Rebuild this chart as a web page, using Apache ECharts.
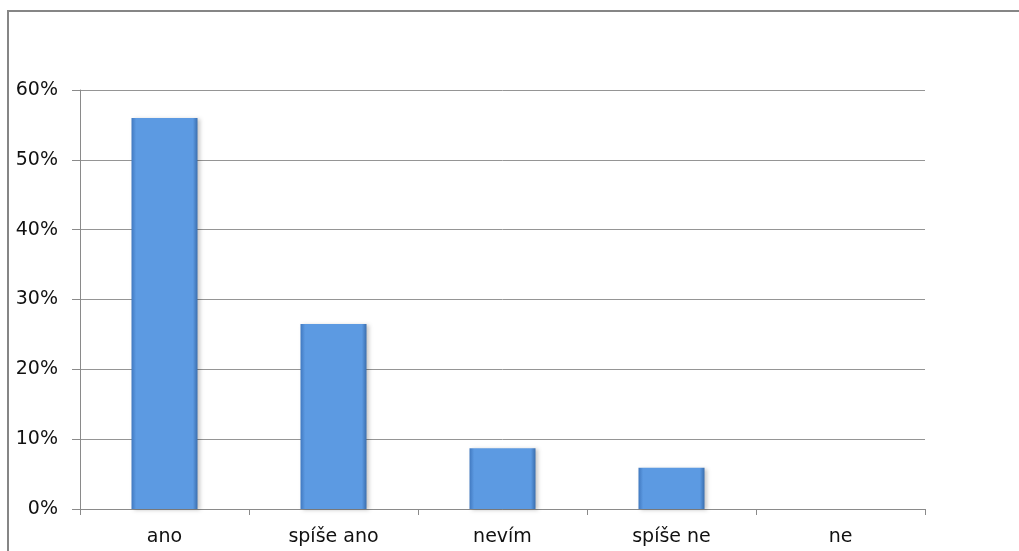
<!DOCTYPE html>
<html><head><meta charset="utf-8">
<script src="https://cdn.jsdelivr.net/npm/echarts@6/dist/echarts.min.js"></script>
<style>html,body{margin:0;padding:0;background:#fff}#c{width:1019px;height:551px}</style>
</head><body><div id="c"></div>
<script>
const categories = ["ano", "spíše ano", "nevím", "spíše ne", "ne"];
const values = [56.0, 26.5, 8.7, 5.9, 0];
const yTicks = [0, 10, 20, 30, 40, 50, 60];

const chart = echarts.init(document.getElementById('c'));
chart.setOption({
  animation: false,
  backgroundColor: '#fff',
  graphic: [{
    type: 'rect', silent: true,
    shape: { x: 8, y: 11, width: 1030, height: 560 },
    style: { fill: 'none', stroke: '#868686', lineWidth: 2 }
  }],
  grid: { left: 80, right: 94, top: 90, bottom: 42 },
  xAxis: {
    type: 'category', data: categories,
    axisLine: { lineStyle: { color: '#8a8a8a', width: 1 } },
    axisTick: { show: true, alignWithLabel: false, length: 6, lineStyle: { color: '#8a8a8a' } },
    axisLabel: { color: '#111', fontFamily: 'DejaVu Sans', fontSize: 19, margin: 19 }
  },
  yAxis: {
    type: 'value', min: 0, max: 60, interval: 10,
    axisLine: { show: true, lineStyle: { color: '#8a8a8a', width: 1 } },
    axisTick: { show: true, length: 8, lineStyle: { color: '#8a8a8a' } },
    splitLine: { lineStyle: { color: '#959595', width: 1 } },
    axisLabel: { color: '#111', fontFamily: 'DejaVu Sans', fontSize: 19, margin: 22,
      formatter: v => yTicks.includes(v) ? v + '%' : '' }
  },
  series: [{
    type: 'bar', data: values, barWidth: 66,
    itemStyle: {
      color: new echarts.graphic.LinearGradient(0, 0, 1, 0, [
        { offset: 0, color: '#4179c0' },
        { offset: 0.07, color: '#5c9ae2' },
        { offset: 0.93, color: '#5c9ae2' },
        { offset: 1, color: '#3a6eae' }
      ]),
      borderWidth: 0,
      shadowColor: 'rgba(0,0,0,0.22)', shadowBlur: 4, shadowOffsetX: 2, shadowOffsetY: 1
    }
  }]
});
</script></body></html>
